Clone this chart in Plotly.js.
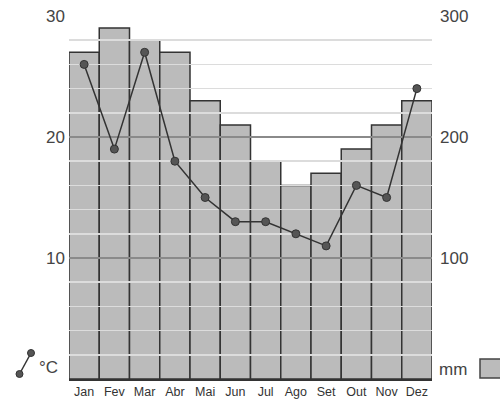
<!DOCTYPE html>
<html>
<head>
<meta charset="utf-8">
<script src="https://cdn.plot.ly/plotly-3.0.1.min.js"></script>
<style>html,body{margin:0;padding:0;background:#fff;}#chart{width:500px;height:404px;}</style>
</head>
<body>
<div id="chart"></div>
<script>
const months = ["Jan","Fev","Mar","Abr","Mai","Jun","Jul","Ago","Set","Out","Nov","Dez"];
const precipitationMm = [270, 290, 280, 270, 230, 210, 180, 160, 170, 190, 210, 230];
const temperatureC = [26, 19, 27, 18, 15, 13, 13, 12, 11, 16, 15, 24];
const tempTicks = [10, 20, 30];
const precipTicks = [100, 200, 300];

const W = 500, H = 404;
const M = {l: 69, r: 68, t: 16, b: 25};
const PW = W - M.l - M.r, PH = H - M.t - M.b;
const px = x => (x - M.l) / PW;
const py = y => (H - M.b - y) / PH;

const shapes = [];
// legend icons
shapes.push({type: 'line', xref: 'paper', yref: 'paper', x0: px(19.5), y0: py(374), x1: px(31), y1: py(353),
  line: {color: '#333', width: 1.5}});
shapes.push({type: 'circle', xref: 'paper', yref: 'paper', x0: px(16), y0: py(370.5), x1: px(23), y1: py(377.5),
  fillcolor: '#555', line: {color: '#333', width: 1}});
shapes.push({type: 'circle', xref: 'paper', yref: 'paper', x0: px(27.5), y0: py(349.5), x1: px(34.5), y1: py(356.5),
  fillcolor: '#555', line: {color: '#333', width: 1}});
shapes.push({type: 'rect', xref: 'paper', yref: 'paper', x0: px(480), y0: py(359), x1: px(506), y1: py(378),
  fillcolor: '#bbbbbb', line: {color: '#444', width: 1.5}});

const data = [
  {type: 'bar', x: months, y: precipitationMm, xaxis: 'x', yaxis: 'y',
    marker: {color: '#bbbbbb', line: {color: '#333', width: 1.5}}, hoverinfo: 'skip'},
  {type: 'scatter', mode: 'lines+markers', x: months, y: temperatureC, xaxis: 'x2', yaxis: 'y2',
    line: {color: '#333', width: 1.5}, marker: {color: '#555', size: 8, line: {color: '#333', width: 1}},
    hoverinfo: 'skip'}
];

const layout = {
  width: W, height: H,
  margin: M,
  paper_bgcolor: '#fff', plot_bgcolor: 'rgba(0,0,0,0)',
  showlegend: false,
  bargap: 0,
  font: {family: 'Liberation Sans, Arial, sans-serif', color: '#444'},
  xaxis: {type: 'category', range: [-0.5, 11.5], domain: [0, 1], anchor: 'y',
    showgrid: false, zeroline: false, showline: false, ticks: '',
    tickfont: {size: 12.5, color: '#333'}, ticklabelstandoff: 3},
  yaxis: {range: [0, 300], tickvals: precipTicks, side: 'right', domain: [0, 1], anchor: 'x',
    showgrid: false, zeroline: false, showline: false, ticks: '',
    tickfont: {size: 17, color: '#444'}, ticklabelstandoff: 7},
  xaxis2: {type: 'category', range: [-0.5, 11.5], domain: [0, 1], anchor: 'y2',
    showgrid: false, zeroline: false, showline: true, linecolor: '#333', linewidth: 2,
    ticks: '', showticklabels: false},
  yaxis2: {range: [0, 30], tickvals: tempTicks, side: 'left', domain: [0, 1], anchor: 'x2',
    showgrid: true, gridcolor: '#8a8a8a', gridwidth: 1.5, zeroline: false, showline: false, ticks: '',
    minor: {tickvals: [2, 4, 6, 8, 12, 14, 16, 18, 22, 24, 26, 28], showgrid: true,
      gridcolor: '#dcdcdc', gridwidth: 1.5, ticks: ''},
    tickfont: {size: 17, color: '#444'}, ticklabelstandoff: 3},
  shapes: shapes,
  annotations: [
    {xref: 'paper', yref: 'paper', x: px(37), y: py(367), xanchor: 'left', yanchor: 'middle',
      text: '°C', showarrow: false, font: {size: 17, color: '#444'}},
    {xref: 'paper', yref: 'paper', x: px(437), y: py(369), xanchor: 'left', yanchor: 'middle',
      text: 'mm', showarrow: false, font: {size: 17, color: '#444'}}
  ]
};

Plotly.newPlot('chart', data, layout, {displayModeBar: false, staticPlot: true});
</script>
</body>
</html>
